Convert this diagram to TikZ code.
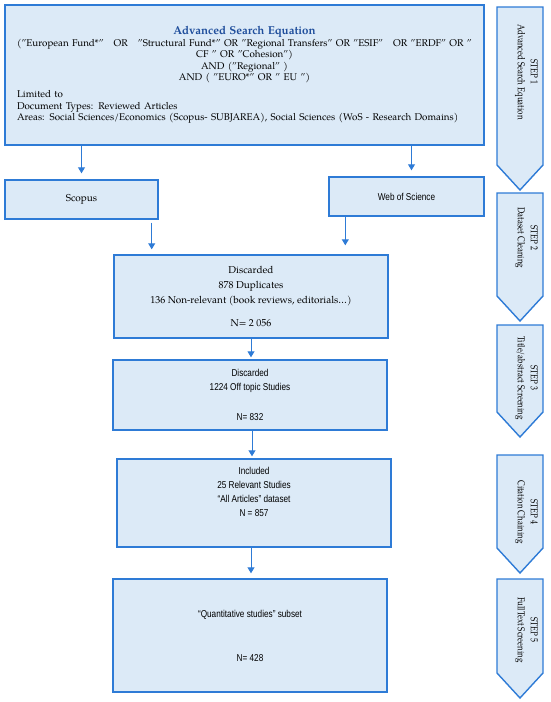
\documentclass[tikz,border=0pt]{standalone}
\usepackage{fontspec}
\setmainfont{TeX Gyre Pagella}
\newfontfamily\narrowsf[FakeStretch=0.82]{Liberation Sans}
\newfontfamily\stepfont[FakeStretch=0.8]{TeX Gyre Pagella}
\usetikzlibrary{arrows.meta}
\definecolor{boxfill}{RGB}{220,234,247}
\definecolor{boxline}{RGB}{46,123,214}
\definecolor{titleblue}{RGB}{31,78,156}
\tikzset{
  box/.style={draw=boxline,fill=boxfill,line width=1.4pt,inner sep=0pt,align=center,minimum width=274pt},
  serifbox/.style={box,font=\fontsize{10}{15}\selectfont},
  narrowbox/.style={box,font=\narrowsf\fontsize{10}{14}\selectfont},
  arr/.style={draw=boxline,line width=0.9pt,-{Triangle[length=6pt,width=7pt]},shorten >=5pt},
  stepshape/.style={draw=boxline,fill=boxfill,line width=1.4pt,line join=miter},
  steptext/.style={rotate=-90,align=center,inner sep=0pt,font=\stepfont\fontsize{10}{13}\selectfont}
}

\begin{document}
\begin{tikzpicture}[x=1pt,y=-1pt]
\useasboundingbox (0,0) rectangle (550,702);
\node[box,minimum width=479pt,minimum height=140pt,text width=455pt] (search) at (244.5,75) {\fontsize{9.8}{11.4}\selectfont\centering
{\fontsize{11.5}{13}\selectfont\bfseries\color{titleblue}Advanced Search Equation}\\
("European Fund*"\ \ \ OR\ \ \ "Structural Fund*" OR "Regional Transfers" OR "ESIF"\ \ \ OR "ERDF" OR "\\
CF " OR "Cohesion")\\
AND ("Regional" )\\
AND ( "EURO*" OR " EU ")\par
\vspace{6pt}\raggedright
Limited to\\
Document Types: Reviewed Articles\\
Areas: Social Sciences/Economics (Scopus- SUBJAREA), Social Sciences (WoS - Research Domains)\par};
\node[serifbox,minimum width=153pt,minimum height=39pt] (scopus) at (81.5,199.5) {Scopus};
\node[narrowbox,minimum width=155pt,minimum height=39pt] (wos) at (406.5,196.5) {Web of Science};
\node[serifbox,minimum height=83pt] (disc1) at (251,296.5) {Discarded\\878 Duplicates\\136 Non-relevant (book reviews, editorials…)\\[8pt]N= 2 056};
\node[narrowbox,minimum height=70pt] (disc2) at (250,395) {Discarded\\1224 Off topic Studies\\[16pt]N= 832};
\node[narrowbox,minimum height=88pt] (incl) at (254,503) {Included\\25 Relevant Studies\\“All Articles” dataset\\N = 857\\[8pt]\mbox{}};
\node[narrowbox,minimum height=113pt] (quant) at (250,635.5) {“Quantitative studies” subset\\[30pt]N= 428};
\draw[arr,shorten >=6pt] (search.south -| scopus.north) -- (scopus.north);
\draw[arr,shorten >=6pt] ([xshift=5pt]search.south -| wos.north) -- ([xshift=5pt]wos.north);
\draw[arr,shorten <=3pt] ([xshift=-7pt]scopus.south east) -- ([xshift=-7pt]scopus.south east |- disc1.north);
\draw[arr,shorten >=9pt] ([xshift=17pt]wos.south west) -- ([xshift=17pt]wos.south west |- disc1.north);
\draw[arr,shorten >=2pt] (disc1.south) -- (disc1.south |- disc2.north);
\draw[arr,shorten >=2pt] ([xshift=2pt]disc2.south) -- ([xshift=2pt]disc2.south |- incl.north);
\draw[arr] ([xshift=-3pt]incl.south) -- ([xshift=-3pt]incl.south |- quant.north);
\foreach \s/\t/\b/\y/\n in {1/7/190/72/Advanced Search Equation,2/193/321/238/Dataset Cleaning,3/325/437/378/{Title/abstract Screening},4/455/573/512/Citation Chaining,5/579/698/630/FullText Screening}{
  \draw[stepshape] (497,\t) -- (543,\t) -- (543,\b-25) -- (520,\b) -- (497,\b-25) -- cycle;
  \node[steptext] (step\s) at (526.5,\y) {STEP \s\\\n};
}
\end{tikzpicture}
\end{document}
